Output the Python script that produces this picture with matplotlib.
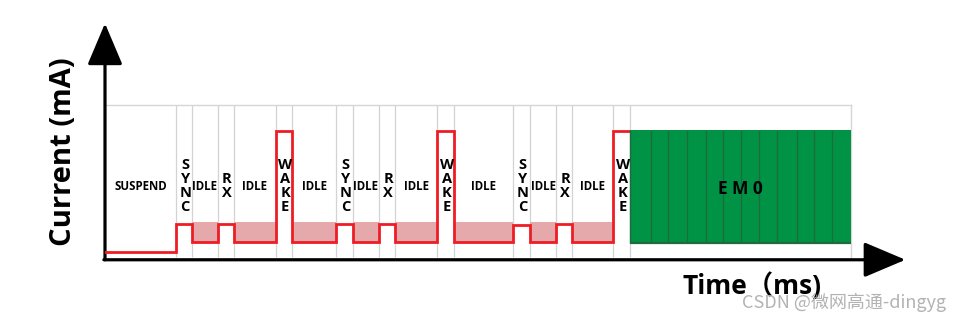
import matplotlib
matplotlib.use("Agg")
import matplotlib.pyplot as plt

# segment names, edges (time, arbitrary ms) and current level (arbitrary mA)
seg_names = ['SUSPEND', 'SYNC', 'IDLE', 'RX', 'IDLE', 'WAKE', 'IDLE', 'SYNC', 'IDLE', 'RX',
             'IDLE', 'WAKE', 'IDLE', 'SYNC', 'IDLE', 'RX', 'IDLE', 'WAKE', 'EM0']
seg_edges = [0, 9.5, 11.7, 15.1, 17.3, 22.9, 25.1, 31.0, 33.2, 36.7, 38.9,
             44.5, 46.8, 54.7, 57.0, 60.5, 62.6, 68.1, 70.4, 100]
seg_current = [0.45, 2.3, 1.1, 2.3, 1.1, 8.3, 1.1, 2.3, 1.1, 2.3,
               1.1, 8.3, 1.1, 2.2, 1.1, 2.3, 1.1, 8.3, 8.4]
idle_fill_top = 2.4
em0_floor = 1.05
em0_cells = [73.15, 75.5, 78.0, 80.5, 82.9, 85.3, 87.7, 90.1, 92.7, 95.1, 97.5]

fig = plt.figure(figsize=(9.59, 3.24), dpi=100)
ax = fig.add_axes([105 / 959, 65 / 324, 746 / 959, 154 / 324])
ax.set_xlim(0, 100)
ax.set_ylim(0, 10)
ax.set_xticks([])
ax.set_yticks([])
for s in ['left', 'bottom']:
    ax.spines[s].set_visible(False)
for s in ['top', 'right']:
    ax.spines[s].set_color('#d6d6d6')
    ax.spines[s].set_linewidth(1)

# light grey separators
ax.vlines(seg_edges[1:-1], 0.15, 10, color='#d3d3d3', lw=0.9, zorder=1)

# red current trace (up to the EM0 block)
xs, ys = [], []
for i in range(len(seg_names) - 1):
    xs += [seg_edges[i], seg_edges[i + 1]]
    ys += [seg_current[i], seg_current[i]]
ax.plot(xs, ys, color='#ee1c25', lw=2.0, zorder=4, solid_joinstyle='miter')

# pink idle shading
for i, name in enumerate(seg_names):
    if name == 'IDLE':
        ax.fill_between([seg_edges[i], seg_edges[i + 1]], seg_current[i], idle_fill_top,
                        color='#e5a9ac', lw=0, zorder=2)

# EM0 green block
i = seg_names.index('EM0')
ax.fill_between([seg_edges[i], seg_edges[i + 1]], em0_floor, seg_current[i],
                color='#009245', lw=0, zorder=5)
ax.vlines(em0_cells, em0_floor, seg_current[i], color='#1f6b3d', lw=0.9, zorder=6)
ax.hlines(em0_floor, seg_edges[i], seg_edges[i + 1], color='#1f6b3d', lw=1.6, zorder=6)
ax.vlines(seg_edges[i], em0_floor, seg_current[i], color='#1f6b3d', lw=1.0, zorder=6)

# segment labels
lab_y = 4.74
for i, name in enumerate(seg_names):
    xc = (seg_edges[i] + seg_edges[i + 1]) / 2
    if name in ('SUSPEND', 'IDLE'):
        ax.text(xc, lab_y, name, ha='center', va='center', fontsize=8.3,
                fontweight='bold', family='Open Sans', zorder=7)
    elif name == 'EM0':
        ax.text(xc, lab_y - 0.2, 'E M 0', ha='center', va='center', fontsize=12.5,
                fontweight='bold', family='Open Sans', zorder=7)
    else:
        ax.text(xc + 0.15, lab_y, '\n'.join(name), ha='center', va='center', fontsize=10.5,
                fontweight='bold', family='Open Sans', linespacing=0.98, zorder=7)

# axes arrows
arrow = dict(arrowstyle='-|>,head_length=1.3,head_width=0.55', lw=2.3, color='black',
             mutation_scale=20, shrinkA=0, shrinkB=0)
ax.annotate('', xy=(0, 15.3), xytext=(0, -0.05), arrowprops=arrow, annotation_clip=False)
ax.annotate('', xy=(107.3, -0.05), xytext=(-0.15, -0.05), arrowprops=arrow, annotation_clip=False)

ax.text(-5.6, 7.0, 'Current (mA)', rotation=90, ha='center', va='center', fontsize=21,
        fontweight='bold', family='Open Sans')
ax.text(86.7, -1.75, 'Time（ms)', ha='center', va='center', fontsize=19,
        fontweight='bold', family=['Open Sans', 'Noto Sans CJK SC'])

fig.text(946 / 959, 22 / 324, 'CSDN @微网高通-dingyg', ha='right', va='center', fontsize=13,
         color='#b3b3b3', family=['Noto Sans CJK SC', 'DejaVu Sans'])

fig.savefig('out.png', dpi=100)
